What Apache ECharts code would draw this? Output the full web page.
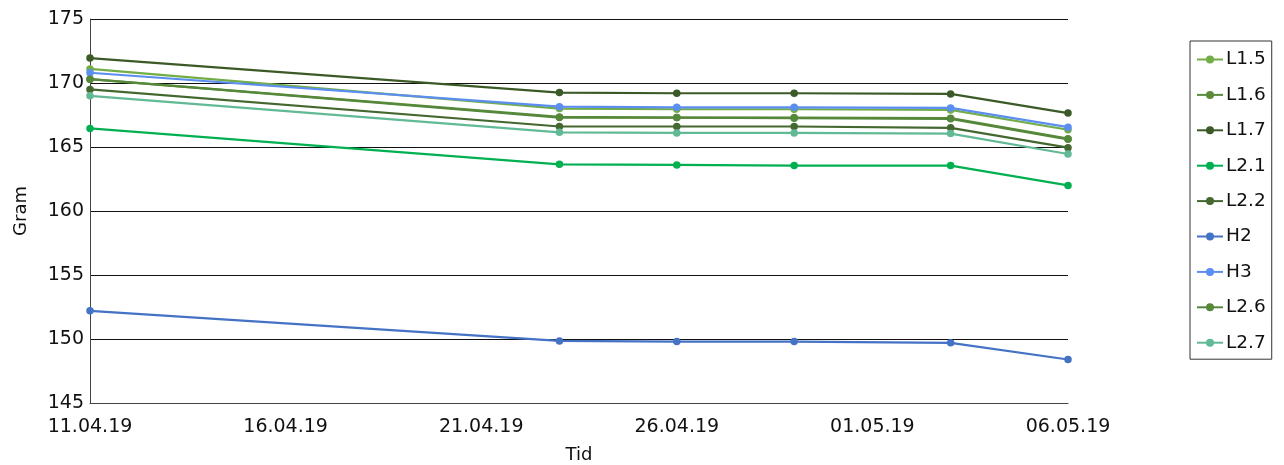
<!DOCTYPE html>
<html>
<head>
<meta charset="utf-8">
<script src="https://cdn.jsdelivr.net/npm/echarts@6/dist/echarts.min.js"></script>
<style>
  html, body { margin: 0; padding: 0; background: #fff; }
  #chart { width: 1284px; height: 465px; }
</style>
</head>
<body>
<div id="chart"></div>
<script>
// Measurement dates (dd.mm.yy shown on axis)
const dates = ['2019-04-11', '2019-04-23', '2019-04-26', '2019-04-29', '2019-05-03', '2019-05-06'];

// Weight in grams per group
const L1_5 = [171.1, 168.0, 167.95, 167.95, 167.9, 166.35];
const L1_6 = [170.3, 167.35, 167.3, 167.3, 167.25, 165.65];
const L1_7 = [171.95, 169.25, 169.2, 169.2, 169.15, 167.65];
const L2_1 = [166.45, 163.65, 163.6, 163.55, 163.55, 162.0];
const L2_2 = [169.5, 166.6, 166.6, 166.6, 166.5, 164.95];
const H2   = [152.2, 149.85, 149.8, 149.8, 149.7, 148.4];
const H3   = [170.8, 168.15, 168.1, 168.1, 168.05, 166.55];
const L2_6 = [170.3, 167.3, 167.3, 167.25, 167.2, 165.6];
const L2_7 = [169.0, 166.15, 166.1, 166.1, 166.05, 164.45];

const seriesNames = ['L1.5', 'L1.6', 'L1.7', 'L2.1', 'L2.2', 'H2', 'H3', 'L2.6', 'L2.7'];
const seriesValues = [L1_5, L1_6, L1_7, L2_1, L2_2, H2, H3, L2_6, L2_7];
const seriesColors = ['#72ad47', '#5b8b3b', '#3b5a27', '#00b050', '#44682f', '#4472c4', '#5b8ef0', '#55883a', '#62b995'];

// x positions as whole days after the first date
const DAY = 86400000;
const start = Date.parse(dates[0]);
const xDays = dates.map(d => Math.round((Date.parse(d) - start) / DAY));

function dayLabel(v) {
  const d = new Date(start + v * DAY);
  const dd = String(d.getUTCDate()).padStart(2, '0');
  const mm = String(d.getUTCMonth() + 1).padStart(2, '0');
  const yy = String(d.getUTCFullYear()).slice(2);
  return dd + '.' + mm + '.' + yy;
}

const FONT = 'DejaVu Sans, Verdana, sans-serif';

const chart = echarts.init(document.getElementById('chart'), null, { renderer: 'canvas' });
chart.setOption({
  animation: false,
  backgroundColor: '#ffffff',
  grid: { left: 90, right: 216, top: 19, bottom: 62, containLabel: false, outerBoundsMode: 'none' },
  xAxis: {
    type: 'value',
    min: 0,
    max: 25,
    interval: 5,
    name: 'Tid',
    nameLocation: 'middle',
    nameGap: 43,
    nameTextStyle: { color: '#111', fontSize: 18, fontFamily: FONT },
    axisLine: { show: true, lineStyle: { color: '#444', width: 1 } },
    axisTick: { show: false },
    splitLine: { show: false },
    axisLabel: { color: '#111', fontSize: 19, fontFamily: FONT, margin: 15, formatter: dayLabel }
  },
  yAxis: {
    type: 'value',
    min: 145,
    max: 175,
    interval: 5,
    name: 'Gram',
    nameLocation: 'middle',
    nameRotate: 90,
    nameGap: 60,
    nameTextStyle: { color: '#111', fontSize: 18, fontFamily: FONT },
    axisLine: { show: true, lineStyle: { color: '#444', width: 1 } },
    axisTick: { show: false },
    splitLine: { show: true, lineStyle: { color: '#111', width: 1 } },
    axisLabel: { color: '#111', fontSize: 19, fontFamily: FONT, margin: 6 }
  },
  legend: {
    orient: 'vertical',
    left: 1190,
    top: 41,
    padding: [9, 6, 7, 6],
    itemWidth: 26,
    itemHeight: 10,
    itemGap: 16.4,
    borderColor: '#333',
    borderWidth: 1,
    textStyle: { color: '#111', fontSize: 18.5, fontFamily: FONT, padding: [0, 0, 0, -2] },
    data: seriesNames
  },
  series: seriesNames.map((name, i) => ({
    name: name,
    type: 'line',
    data: seriesValues[i].map((v, k) => [xDays[k], v]),
    color: seriesColors[i],
    symbol: 'circle',
    symbolSize: 7.5,
    lineStyle: { width: 2.2 },
    z: 2 + i
  }))
});
</script>
</body>
</html>
